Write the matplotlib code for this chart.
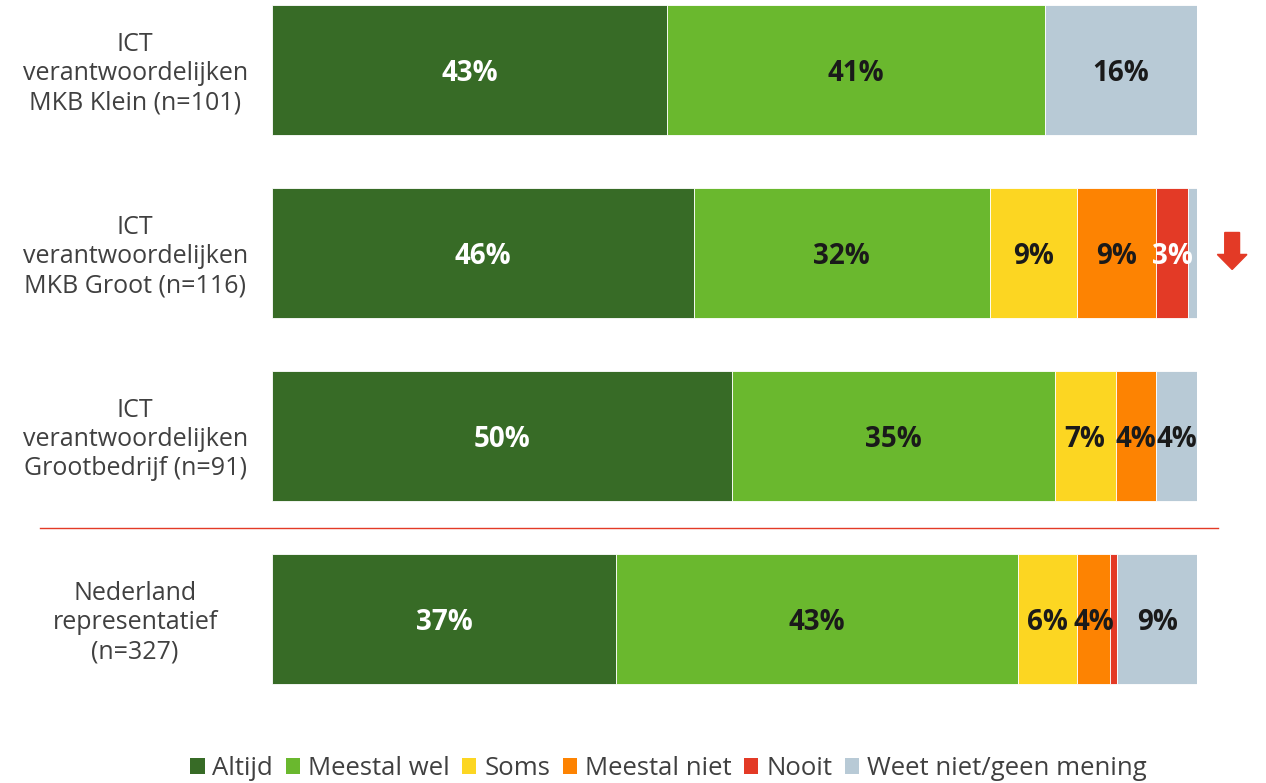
import matplotlib
matplotlib.use("Agg")
import matplotlib.pyplot as plt
from matplotlib.patches import Patch, FancyArrow

plt.rcParams["font.family"] = ["Open Sans", "DejaVu Sans"]

groups = ["ICT\nverantwoordelijken\nMKB Klein (n=101)",
          "ICT\nverantwoordelijken\nMKB Groot (n=116)",
          "ICT\nverantwoordelijken\nGrootbedrijf (n=91)",
          "Nederland\nrepresentatief\n(n=327)"]
answers = ["Altijd", "Meestal wel", "Soms", "Meestal niet", "Nooit", "Weet niet/geen mening"]
altijd = [42.7, 45.6, 49.7, 37.2]
meestal_wel = [40.9, 32.0, 34.9, 43.4]
soms = [0.0, 9.4, 6.6, 6.4]
meestal_niet = [0.0, 8.6, 4.4, 3.6]
nooit = [0.0, 3.4, 0.0, 0.8]
weet_niet = [16.4, 1.0, 4.4, 8.6]

COLORS = ["#376B26", "#6AB82E", "#FCD622", "#FD8302", "#E33A26", "#B8CAD6"]
TEXT_ON = ["white", "#1a1a1a", "#1a1a1a", "#1a1a1a", "white", "#1a1a1a"]
GREY = "#404040"

fig = plt.figure(figsize=(12.66, 7.83), dpi=100)
ax = fig.add_axes([272 / 1266, 63 / 783, 925 / 1266, 720 / 783])

series = [altijd, meestal_wel, soms, meestal_niet, nooit, weet_niet]
ypos = list(range(len(groups)))
left = [0.0] * len(groups)
for vals, col, tcol in zip(series, COLORS, TEXT_ON):
    ax.barh(ypos, vals, left=left, height=0.71, color=col, edgecolor="white", linewidth=0.6)
    for y, v, l in zip(ypos, vals, left):
        if v >= 2:
            ax.text(l + v / 2, y + 0.02, f"{v:.0f}%", ha="center", va="center",
                    fontsize=20, fontweight="bold", color=tcol)
    left = [l + v for l, v in zip(left, vals)]

for y, g in zip(ypos, groups):
    ax.text(-14.8, y + 0.02, g, ha="center", va="center", fontsize=18, color=GREY,
            linespacing=1.22, clip_on=False)

# scheiding tussen ICT-groepen en de representatieve steekproef
ax.plot([-25.1, 102.3], [2.505, 2.505], color="#E33A26", lw=1, clip_on=False)

# daling bij MKB Groot
ax.add_patch(FancyArrow(103.8, 0.888, 0, 0.202, width=1.6, head_width=3.2,
                        head_length=0.082, length_includes_head=True,
                        color="#E33A26", clip_on=False))

ax.set_xlim(0, 100)
ax.set_ylim(3.552, -0.3825)
ax.axis("off")

handles = [Patch(facecolor=c, edgecolor="none") for c in COLORS]
fig.legend(handles, answers, loc="lower center", bbox_to_anchor=(0.528, -0.027),
           ncol=6, frameon=False, fontsize=18.5, handlelength=0.55, handleheight=0.55,
           handletextpad=0.3, columnspacing=0.5, labelcolor=GREY)

fig.savefig("out.png", dpi=100)
